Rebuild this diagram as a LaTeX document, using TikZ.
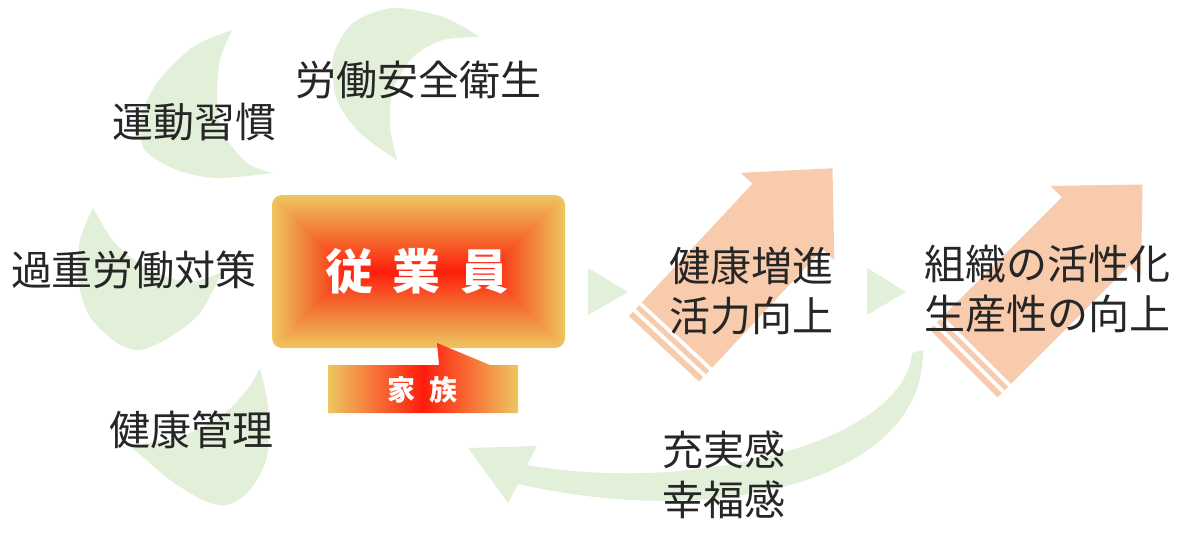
\documentclass[tikz,border=0pt]{standalone}
\usepackage{fontspec}
\setmainfont{Noto Sans CJK JP}
\usetikzlibrary{positioning}
\definecolor{leafGreen}{RGB}{226,239,217}
\definecolor{upPeach}{RGB}{247,203,172}
\definecolor{coreRed}{RGB}{255,28,12}
\definecolor{midOrange}{RGB}{243,118,52}
\definecolor{rimGold}{RGB}{238,198,96}
\definecolor{inkGray}{RGB}{38,38,38}
\begin{document}
\begin{tikzpicture}[x=1pt, y=-1pt,
  every node/.style={inner sep=0pt, outer sep=0pt},
  cjktext/.style={text=inkGray, font=\fontsize{41pt}{50pt}\selectfont, align=center},
  whitetext/.style={text=white, font=\bfseries},
  leaf/.style={fill=leafGreen},
  uparrow/.style={fill=upPeach},
]
\useasboundingbox (0,0) rectangle (1187,541);

% Cycle of green leaves round the employee
\fill[leaf] plot[smooth] coordinates {(232,30) (193,47) (157,83) (140,120) (145,150) (177,170) (217,178) (273,173)}
  -- plot[smooth] coordinates {(273,173) (247,163) (223,133) (217,100) (220,60) (232,30)} -- cycle;
\fill[leaf] plot[smooth] coordinates {(480,37) (443,17) (393,8) (353,23) (333,57) (337,100) (360,133) (397,160)}
  -- plot[smooth] coordinates {(397,160) (390,127) (393,90) (413,57) (443,40) (480,37)} -- cycle;
\fill[leaf] plot[smooth] coordinates {(93,208) (80,240) (78,280) (90,317) (117,343) (140,350) (170,337) (200,313) (222,272)}
  -- plot[smooth] coordinates {(222,272) (190,282) (150,270) (115,243) (93,208)} -- cycle;
\fill[leaf] plot[smooth] coordinates {(260,368) (268,407) (267,457) (250,490) (227,505) (203,500) (170,480) (143,457) (128,445)}
  -- plot[smooth] coordinates {(128,445) (177,438) (220,417) (247,390) (260,368)} -- cycle;

% Green step triangles
\fill[leaf] (588,268) -- (628,292) -- (588,315) -- cycle;
\fill[leaf] (867,268) -- (906,292) -- (867,315) -- cycle;

% Rising striped arrows
\foreach \ax/\ay/\rot/\len in {677/335/47/228, 977/350/45/234}{
  \begin{scope}[shift={(\ax,\ay)}, rotate=\rot]
    \fill[uparrow] (0,-48) -- ({\len-66},-48) -- ({\len-66},-64) -- (\len,0)
      -- ({\len-66},64) -- ({\len-66},48) -- (0,48) -- cycle;
    \fill[uparrow] (-9,-48) rectangle (-4,48);
    \fill[uparrow] (-19,-48) rectangle (-13,48);
  \end{scope}
}

% Return arrow back to the employee
\fill[leaf] (923,350) .. controls (925,480) and (720,530) .. (518,484)
  -- (508,503) -- (468,448) -- (537,446) -- (527,465)
  .. controls (700,495) and (905,440) .. (912,353) -- cycle;

% Employee box with rectangular gradient (middle color must come last)
\begin{scope}
  \clip[rounded corners=10pt] (272,195) rectangle (565,348);
  \shade[top color=rimGold, bottom color=coreRed, middle color=midOrange]
    (272,195) -- (565,195) -- (489,272) -- (348,272) -- cycle;
  \shade[top color=coreRed, bottom color=rimGold, middle color=midOrange]
    (272,348) -- (565,348) -- (489,271) -- (348,271) -- cycle;
  \shade[left color=rimGold, right color=coreRed, middle color=midOrange]
    (272,195) -- (349,271.5) -- (272,348) -- cycle;
  \shade[left color=coreRed, right color=rimGold, middle color=midOrange]
    (565,195) -- (488,271.5) -- (565,348) -- cycle;
\end{scope}
\node[whitetext, font=\bfseries\fontsize{48pt}{48pt}\selectfont] (staff) at (417,271)
  {従\hspace{0.4em}業\hspace{0.4em}員};

% Family callout
\shade[left color=rimGold, right color=rimGold, middle color=coreRed]
  (328,365) -- (439,365) -- (437,343) -- (490,365) -- (518,365)
  -- (518,413) -- (328,413) -- cycle;
\node[whitetext, font=\bfseries\fontsize{28pt}{28pt}\selectfont] (family) at (422,390)
  {家\hspace{0.5em}族};

% Labels
\node[cjktext] (safety) at (418,80) {労働安全衛生};
\node[cjktext] (exercise) at (194,122) {運動習慣};
\node[cjktext] (overwork) at (134,270) {過重労働対策};
\node[cjktext] (care) at (191,430) {健康管理};
\node[cjktext] (vitality) at (751,291) {健康増進\\活力向上};
\node[cjktext] (org) at (1047,289) {組織の活性化\\生産性の向上};
\node[cjktext] (fulfil) at (724,475) {充実感\\幸福感};
\end{tikzpicture}
\end{document}
